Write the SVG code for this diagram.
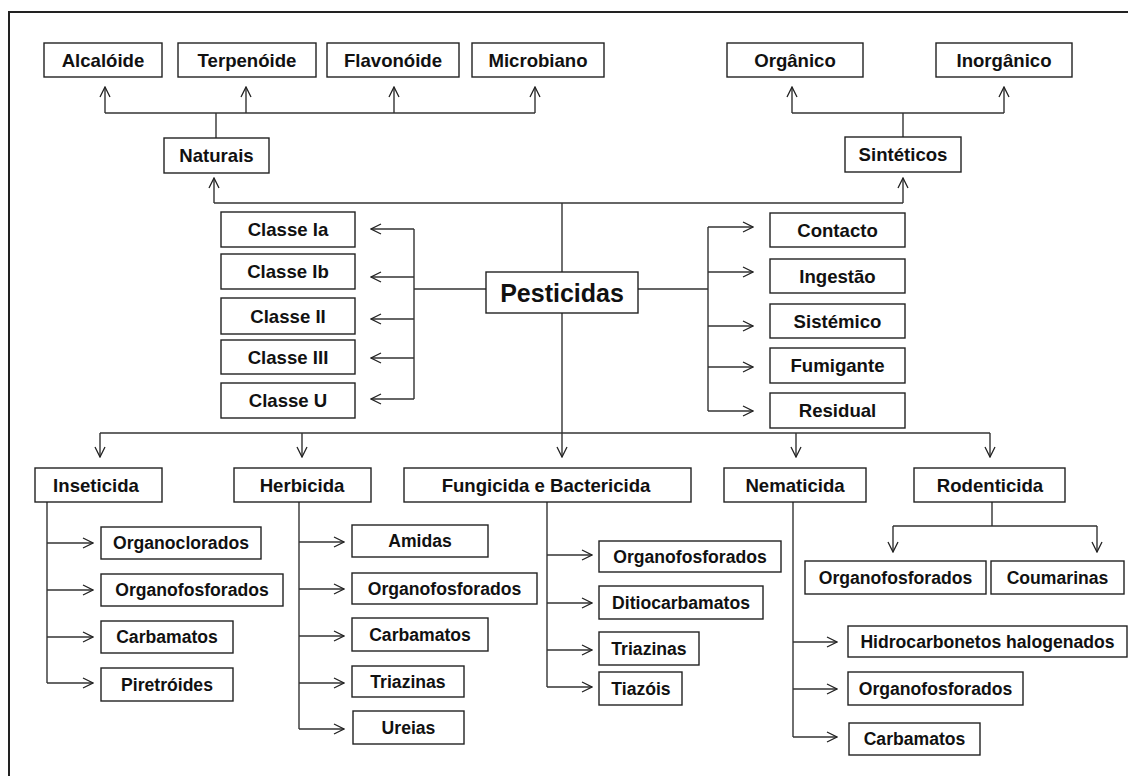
<svg xmlns="http://www.w3.org/2000/svg" width="1128" height="776" viewBox="0 0 1128 776">
<style>
.b{fill:#fff;stroke:#222;stroke-width:1.4}
.t{font-family:"Liberation Sans",Arial,sans-serif;font-weight:bold;font-size:18.6px;fill:#111;text-anchor:middle}
.s{font-size:17.6px}
.p{font-size:25px}
.c{fill:none;stroke:#333;stroke-width:1.4}
.a{marker-end:url(#ah)}
</style>
<defs>
<marker id="ah" viewBox="0 0 12 12" refX="11" refY="6" markerWidth="12" markerHeight="12" markerUnits="userSpaceOnUse" orient="auto">
<path d="M1,1 L11,6 L1,11" fill="none" stroke="#222" stroke-width="1.3"/>
</marker>
</defs>
<rect width="1128" height="776" fill="#fff"/>
<rect x="9" y="12" width="1140" height="800" fill="none" stroke="#222" stroke-width="2"/>

<g id="connectors" class="c">
<path d="M105,113 H535"/>
<path class="a" d="M105,113 V87"/>
<path class="a" d="M246,113 V87"/>
<path class="a" d="M394,113 V87"/>
<path class="a" d="M535,113 V87"/>
<path d="M216,138 V113"/>
<path d="M792,113 H1004"/>
<path class="a" d="M792,113 V87"/>
<path class="a" d="M1004,113 V87"/>
<path d="M903,137 V113"/>
<path d="M214,203 H903"/>
<path class="a" d="M214,203 V178"/>
<path class="a" d="M903,203 V178"/>
<path d="M562,203 V272"/>
<path d="M562,313 V433"/>
<path d="M100,433 H990"/>
<path class="a" d="M100,433 V457"/>
<path class="a" d="M302,433 V457"/>
<path class="a" d="M562,433 V457"/>
<path class="a" d="M796,433 V457"/>
<path class="a" d="M990,433 V457"/>
<path d="M486,289 H414 M414,229 V399"/>
<path class="a" d="M414,229 H371"/>
<path class="a" d="M414,277 H371"/>
<path class="a" d="M414,319 H371"/>
<path class="a" d="M414,358 H371"/>
<path class="a" d="M414,399 H371"/>
<path d="M638,289 H708 M708,227 V411"/>
<path class="a" d="M708,227 H753"/>
<path class="a" d="M708,272 H753"/>
<path class="a" d="M708,326 H753"/>
<path class="a" d="M708,367 H753"/>
<path class="a" d="M708,411 H753"/>
<path d="M47,502 V683"/>
<path class="a" d="M47,543 H93"/>
<path class="a" d="M47,590 H93"/>
<path class="a" d="M47,637 H93"/>
<path class="a" d="M47,683 H93"/>
<path d="M299,502 V729"/>
<path class="a" d="M299,542 H344"/>
<path class="a" d="M299,589 H344"/>
<path class="a" d="M299,636 H344"/>
<path class="a" d="M299,683 H344"/>
<path class="a" d="M299,729 H344"/>
<path d="M547,502 V687"/>
<path class="a" d="M547,555 H592"/>
<path class="a" d="M547,603 H592"/>
<path class="a" d="M547,650 H592"/>
<path class="a" d="M547,687 H592"/>
<path d="M793,502 V737"/>
<path class="a" d="M793,642 H837"/>
<path class="a" d="M793,689 H837"/>
<path class="a" d="M793,737 H837"/>
<path d="M992,502 V526 M893,526 H1097"/>
<path class="a" d="M893,526 V552"/>
<path class="a" d="M1097,526 V552"/>
</g>

<g id="alcaloide"><rect class="b" x="44" y="43" width="118" height="34"/><text class="t" x="103" y="66.5">Alcalóide</text></g>
<g id="terpenoide"><rect class="b" x="178" y="43" width="138" height="34"/><text class="t" x="247" y="66.5">Terpenóide</text></g>
<g id="flavonoide"><rect class="b" x="327" y="43" width="132" height="34"/><text class="t" x="393" y="66.5">Flavonóide</text></g>
<g id="microbiano"><rect class="b" x="472" y="43" width="132" height="34"/><text class="t" x="538" y="66.5">Microbiano</text></g>
<g id="organico"><rect class="b" x="727" y="43" width="136" height="34"/><text class="t" x="795" y="66.5">Orgânico</text></g>
<g id="inorganico"><rect class="b" x="936" y="43" width="136" height="34"/><text class="t" x="1004" y="66.5">Inorgânico</text></g>
<g id="naturais"><rect class="b" x="164" y="138" width="105" height="35"/><text class="t" x="216.5" y="162">Naturais</text></g>
<g id="sinteticos"><rect class="b" x="845" y="137" width="116" height="35"/><text class="t" x="903" y="161">Sintéticos</text></g>
<g id="pesticidas"><rect class="b" x="486" y="272" width="152" height="41"/><text class="t p" x="562" y="301.5">Pesticidas</text></g>

<g id="classe-ia"><rect class="b" x="221" y="212" width="134" height="35"/><text class="t" x="288" y="236">Classe Ia</text></g>
<g id="classe-ib"><rect class="b" x="221" y="254" width="134" height="35"/><text class="t" x="288" y="278">Classe Ib</text></g>
<g id="classe-ii"><rect class="b" x="221" y="298" width="134" height="36"/><text class="t" x="288" y="322.5">Classe II</text></g>
<g id="classe-iii"><rect class="b" x="221" y="340" width="134" height="34"/><text class="t" x="288" y="363.5">Classe III</text></g>
<g id="classe-u"><rect class="b" x="221" y="383" width="134" height="35"/><text class="t" x="288" y="407">Classe U</text></g>

<g id="contacto"><rect class="b" x="770" y="213" width="135" height="34"/><text class="t" x="837.5" y="236.5">Contacto</text></g>
<g id="ingestao"><rect class="b" x="770" y="259" width="135" height="34"/><text class="t" x="837.5" y="282.5">Ingestão</text></g>
<g id="sistemico"><rect class="b" x="770" y="304" width="135" height="34"/><text class="t" x="837.5" y="327.5">Sistémico</text></g>
<g id="fumigante"><rect class="b" x="770" y="348" width="135" height="35"/><text class="t" x="837.5" y="372">Fumigante</text></g>
<g id="residual"><rect class="b" x="770" y="393" width="135" height="35"/><text class="t" x="837.5" y="417">Residual</text></g>

<g id="inseticida"><rect class="b" x="35" y="468" width="127" height="34"/><text class="t" x="96" y="491.5">Inseticida</text></g>
<g id="herbicida"><rect class="b" x="234" y="468" width="137" height="34"/><text class="t" x="302" y="491.5">Herbicida</text></g>
<g id="fungicida"><rect class="b" x="404" y="468" width="287" height="34"/><text class="t" x="546" y="491.5">Fungicida e Bactericida</text></g>
<g id="nematicida"><rect class="b" x="724" y="468" width="142" height="34"/><text class="t" x="795" y="491.5">Nematicida</text></g>
<g id="rodenticida"><rect class="b" x="914" y="468" width="151" height="34"/><text class="t" x="990" y="491.5">Rodenticida</text></g>

<g id="ins-organoclorados"><rect class="b" x="101" y="527" width="160" height="32"/><text class="t s" x="181" y="549">Organoclorados</text></g>
<g id="ins-organofosforados"><rect class="b" x="101" y="574" width="182" height="32"/><text class="t s" x="192" y="596">Organofosforados</text></g>
<g id="ins-carbamatos"><rect class="b" x="101" y="621" width="132" height="32"/><text class="t s" x="167" y="643">Carbamatos</text></g>
<g id="ins-piretroides"><rect class="b" x="101" y="668" width="132" height="33"/><text class="t s" x="167" y="690.5">Piretróides</text></g>

<g id="her-amidas"><rect class="b" x="352" y="525" width="136" height="32"/><text class="t s" x="420" y="547">Amidas</text></g>
<g id="her-organofosforados"><rect class="b" x="352" y="573" width="185" height="31"/><text class="t s" x="444.5" y="594.5">Organofosforados</text></g>
<g id="her-carbamatos"><rect class="b" x="352" y="618" width="136" height="33"/><text class="t s" x="420" y="640.5">Carbamatos</text></g>
<g id="her-triazinas"><rect class="b" x="352" y="666" width="112" height="31"/><text class="t s" x="408" y="687.5">Triazinas</text></g>
<g id="her-ureias"><rect class="b" x="353" y="711" width="111" height="33"/><text class="t s" x="408.5" y="733.5">Ureias</text></g>

<g id="fun-organofosforados"><rect class="b" x="599" y="541" width="182" height="31"/><text class="t s" x="690" y="562.5">Organofosforados</text></g>
<g id="fun-ditiocarbamatos"><rect class="b" x="599" y="586" width="164" height="33"/><text class="t s" x="681" y="608.5">Ditiocarbamatos</text></g>
<g id="fun-triazinas"><rect class="b" x="599" y="632" width="100" height="33"/><text class="t s" x="649" y="654.5">Triazinas</text></g>
<g id="fun-tiazois"><rect class="b" x="599" y="672" width="83" height="33"/><text class="t s" x="641" y="694.5">Tiazóis</text></g>

<g id="rod-organofosforados"><rect class="b" x="805" y="561" width="181" height="33"/><text class="t s" x="895.5" y="583.5">Organofosforados</text></g>
<g id="rod-coumarinas"><rect class="b" x="991" y="561" width="133" height="33"/><text class="t s" x="1057.5" y="583.5">Coumarinas</text></g>

<g id="nem-hidrocarbonetos"><rect class="b" x="848" y="626" width="279" height="31"/><text class="t s" x="987.5" y="647.5">Hidrocarbonetos halogenados</text></g>
<g id="nem-organofosforados"><rect class="b" x="848" y="672" width="175" height="33"/><text class="t s" x="935.5" y="694.5">Organofosforados</text></g>
<g id="nem-carbamatos"><rect class="b" x="849" y="723" width="131" height="32"/><text class="t s" x="914.5" y="745">Carbamatos</text></g>
</svg>
